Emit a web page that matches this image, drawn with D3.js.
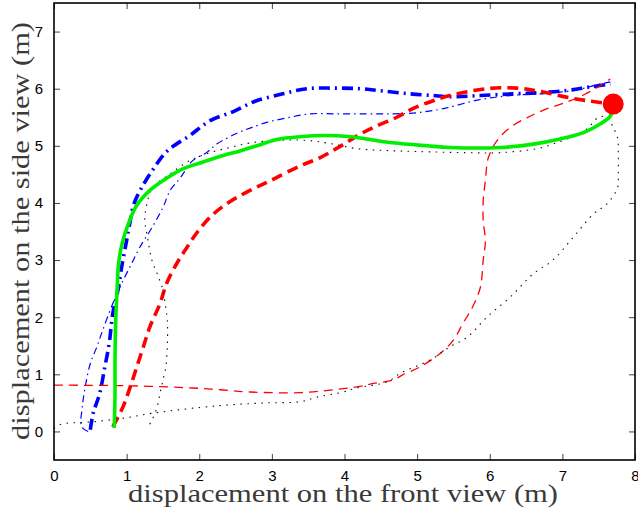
<!DOCTYPE html>
<html>
<head>
<meta charset="utf-8">
<script src="https://cdn.jsdelivr.net/npm/d3@7"></script>
<style>
  body { margin: 0; background: #fff; }
  svg { display: block; }
</style>
</head>
<body>
<svg id="chart" width="638" height="508"></svg>
<script>
// tick labels
var xTicks = [0, 1, 2, 3, 4, 5, 6, 7, 8];
var yTicks = [0, 1, 2, 3, 4, 5, 6, 7];

// trajectories, [x, y] in metres
var blueThick = [[0.50,0.03],[0.54,0.32],[0.63,0.67],[0.70,1.13],[0.76,1.54],[0.81,2.07],[0.88,2.47],[0.94,2.94],[1.00,3.34],[1.04,3.62],[1.10,3.98],[1.20,4.25],[1.35,4.56],[1.56,4.91],[1.87,5.18],[2.15,5.44],[2.47,5.60],[2.77,5.78],[3.15,5.91],[3.48,6.00],[3.84,6.01],[4.21,6.00],[4.53,5.96],[4.90,5.91],[5.22,5.88],[5.45,5.86],[5.87,5.88],[6.32,5.91],[6.69,5.93],[7.07,5.97],[7.38,6.03],[7.66,6.08]];

var blueThin = [[0.47,0.00],[0.38,0.08],[0.39,0.43],[0.43,0.78],[0.50,1.19],[0.59,1.48],[0.67,1.77],[0.81,2.24],[0.95,2.64],[1.07,2.94],[1.18,3.22],[1.35,3.57],[1.50,3.92],[1.60,4.22],[1.74,4.44],[1.91,4.74],[2.10,4.88],[2.24,5.03],[2.52,5.22],[2.70,5.31],[2.93,5.41],[3.21,5.49],[3.53,5.56],[3.90,5.56],[4.31,5.56],[4.67,5.56],[5.00,5.58],[5.36,5.65],[5.83,5.80],[6.28,5.88],[6.80,5.92],[7.20,5.98],[7.42,6.05],[7.66,6.12]];

var redThick = [[0.81,0.08],[0.95,0.43],[1.05,0.78],[1.14,1.13],[1.23,1.48],[1.32,1.83],[1.46,2.24],[1.55,2.59],[1.69,2.94],[1.83,3.22],[1.98,3.50],[2.19,3.80],[2.42,4.02],[2.70,4.22],[2.98,4.39],[3.39,4.65],[3.66,4.79],[3.94,4.99],[4.21,5.20],[4.45,5.35],[4.72,5.50],[4.94,5.65],[5.22,5.79],[5.45,5.88],[5.96,6.00],[6.38,6.01],[6.70,5.95],[7.10,5.84],[7.40,5.78],[7.70,5.73]];

var redThin = [[0.00,0.81],[1.00,0.80],[1.92,0.76],[2.29,0.73],[2.70,0.69],[3.40,0.68],[3.85,0.73],[4.17,0.78],[4.40,0.84],[4.67,0.90],[4.80,0.99],[5.04,1.13],[5.32,1.37],[5.50,1.60],[5.63,1.89],[5.76,2.17],[5.87,2.52],[5.91,3.00],[5.94,3.34],[5.91,3.69],[5.91,4.04],[5.94,4.39],[5.98,4.79],[6.10,5.09],[6.28,5.32],[6.51,5.49],[6.79,5.65],[7.07,5.77],[7.29,5.89],[7.48,6.02],[7.62,6.14],[7.66,6.17]];

var blackDotted = [[0.00,0.05],[0.08,0.12],[0.54,0.17],[1.00,0.24],[1.36,0.32],[2.01,0.42],[2.47,0.47],[2.93,0.50],[3.39,0.52],[3.62,0.60],[3.98,0.69],[4.17,0.76],[4.59,0.87],[4.77,1.02],[5.18,1.25],[5.45,1.48],[5.69,1.65],[5.96,2.00],[6.28,2.35],[6.60,2.76],[6.87,3.00],[7.15,3.40],[7.43,3.81],[7.62,3.99],[7.76,4.27],[7.77,4.51],[7.77,4.86],[7.76,5.14],[7.70,5.32],[7.62,5.50],[7.50,5.50],[7.34,5.30],[7.10,5.14],[6.87,5.03],[6.65,4.95],[6.14,4.88],[5.69,4.88],[5.00,4.90],[4.53,4.92],[4.17,4.95],[3.84,5.03],[3.53,5.09],[3.15,5.10],[2.70,5.05],[2.42,4.97],[2.15,4.88],[1.87,4.74],[1.60,4.51],[1.36,4.27],[1.28,3.99],[1.25,3.70],[1.28,3.45],[1.35,2.99],[1.42,2.76],[1.49,2.52],[1.53,2.24],[1.56,1.95],[1.56,1.48],[1.54,1.13],[1.50,0.90],[1.46,0.67],[1.42,0.43],[1.35,0.20],[1.28,0.05]];

var green = [[0.83,0.06],[0.84,0.67],[0.84,1.25],[0.85,1.95],[0.87,2.52],[0.89,2.95],[0.94,3.30],[1.02,3.62],[1.14,3.96],[1.32,4.22],[1.50,4.39],[1.78,4.60],[2.01,4.70],[2.33,4.83],[2.56,4.91],[2.84,5.02],[3.07,5.11],[3.39,5.16],[3.71,5.18],[4.08,5.16],[4.45,5.09],[4.77,5.04],[5.14,5.00],[5.45,4.97],[6.14,4.97],[6.60,5.03],[6.97,5.12],[7.29,5.23],[7.52,5.38],[7.66,5.52],[7.70,5.66]];

var endPoint = [[7.70, 5.73]];

var svg = d3.select("#chart");

var x = d3.scaleLinear().domain([0, 8]).range([54, 635]);
var y = d3.scaleLinear().domain([-0.5, 7.5]).range([460, 3]);

// clip traces to the axes box like matlab does
svg.append("clipPath").attr("id", "plotclip")
    .append("rect")
    .attr("x", x(0)).attr("y", y(7.5))
    .attr("width", x(8) - x(0)).attr("height", y(-0.5) - y(7.5));

var line = d3.line()
    .x(function(d){ return x(d[0]); })
    .y(function(d){ return y(d[1]); })
    .curve(d3.curveCatmullRom.alpha(0.5));

var traces = [
    {data: blueThick,   color: "#0000ff", width: 3.6, dash: "11,5,2,5"},
    {data: blueThin,    color: "#0000ff", width: 1.2, dash: "7,4,1.5,4"},
    {data: redThick,    color: "#ff0000", width: 3.6, dash: "11,6"},
    {data: redThin,     color: "#ff0000", width: 1.3, dash: "9,6"},
    {data: blackDotted, color: "#111111", width: 1.1, dash: "1.5,5.5"},
    {data: green,       color: "#00ee00", width: 3.6, dash: null}
];

var plot = svg.append("g").attr("clip-path", "url(#plotclip)");

traces.forEach(function(t){
    plot.append("path")
	.datum(t.data)
	.attr("d", line)
	.attr("fill", "none")
	.attr("stroke", t.color)
	.attr("stroke-width", t.width)
	.attr("stroke-dasharray", t.dash)
	.attr("stroke-linejoin", "round");
});

plot.selectAll("circle.endpt")
    .data(endPoint)
    .enter().append("circle")
    .attr("class", "endpt")
    .attr("cx", function(d){ return x(d[0]); })
    .attr("cy", function(d){ return y(d[1]); })
    .attr("r", 10.5)
    .attr("fill", "#ff0000");

// axes: ticks pointing inward on all four sides
var tickLen = 6;
var axB = d3.axisBottom(x).tickValues(xTicks).tickSizeInner(-tickLen).tickSizeOuter(0).tickPadding(10);
var axT = d3.axisTop(x).tickValues(xTicks).tickSizeInner(-tickLen).tickSizeOuter(0).tickFormat("");
var axL = d3.axisLeft(y).tickValues(yTicks).tickSizeInner(-tickLen).tickSizeOuter(0).tickPadding(11);
var axR = d3.axisRight(y).tickValues(yTicks).tickSizeInner(-tickLen).tickSizeOuter(0).tickFormat("");

function styleAxis(g){
    g.select(".domain").remove();
    g.selectAll(".tick line").attr("stroke", "#444").attr("stroke-width", 1);
    g.selectAll(".tick text")
	.attr("fill", "#000")
	.style("font-family", "'Liberation Sans', Arial, sans-serif")
	.style("font-size", "15px");
}

svg.append("g").attr("transform", "translate(0," + y(-0.5) + ")").call(axB).call(styleAxis);
svg.append("g").attr("transform", "translate(0," + y(7.5) + ")").call(axT).call(styleAxis);
svg.append("g").attr("transform", "translate(" + x(0) + ",0)").call(axL).call(styleAxis);
svg.append("g").attr("transform", "translate(" + x(8) + ",0)").call(axR).call(styleAxis);

svg.append("rect")
    .attr("x", x(0)).attr("y", y(7.5))
    .attr("width", x(8) - x(0)).attr("height", y(-0.5) - y(7.5))
    .attr("fill", "none")
    .attr("stroke", "#000")
    .attr("stroke-width", 1.6);

// axis labels (latex-ish serif)
svg.append("text")
    .attr("x", 343).attr("y", 502)
    .attr("text-anchor", "middle")
    .attr("textLength", 430).attr("lengthAdjust", "spacingAndGlyphs")
    .style("font-family", "'Liberation Serif', 'DejaVu Serif', serif")
    .style("font-size", "25px")
    .attr("fill", "#3a3a3a")
    .text("displacement on the front view (m)");

svg.append("text")
    .attr("transform", "translate(29,231) rotate(-90)")
    .attr("text-anchor", "middle")
    .attr("textLength", 418).attr("lengthAdjust", "spacingAndGlyphs")
    .style("font-family", "'Liberation Serif', 'DejaVu Serif', serif")
    .style("font-size", "25px")
    .attr("fill", "#3a3a3a")
    .text("displacement on the side view (m)");
</script>
</body>
</html>
